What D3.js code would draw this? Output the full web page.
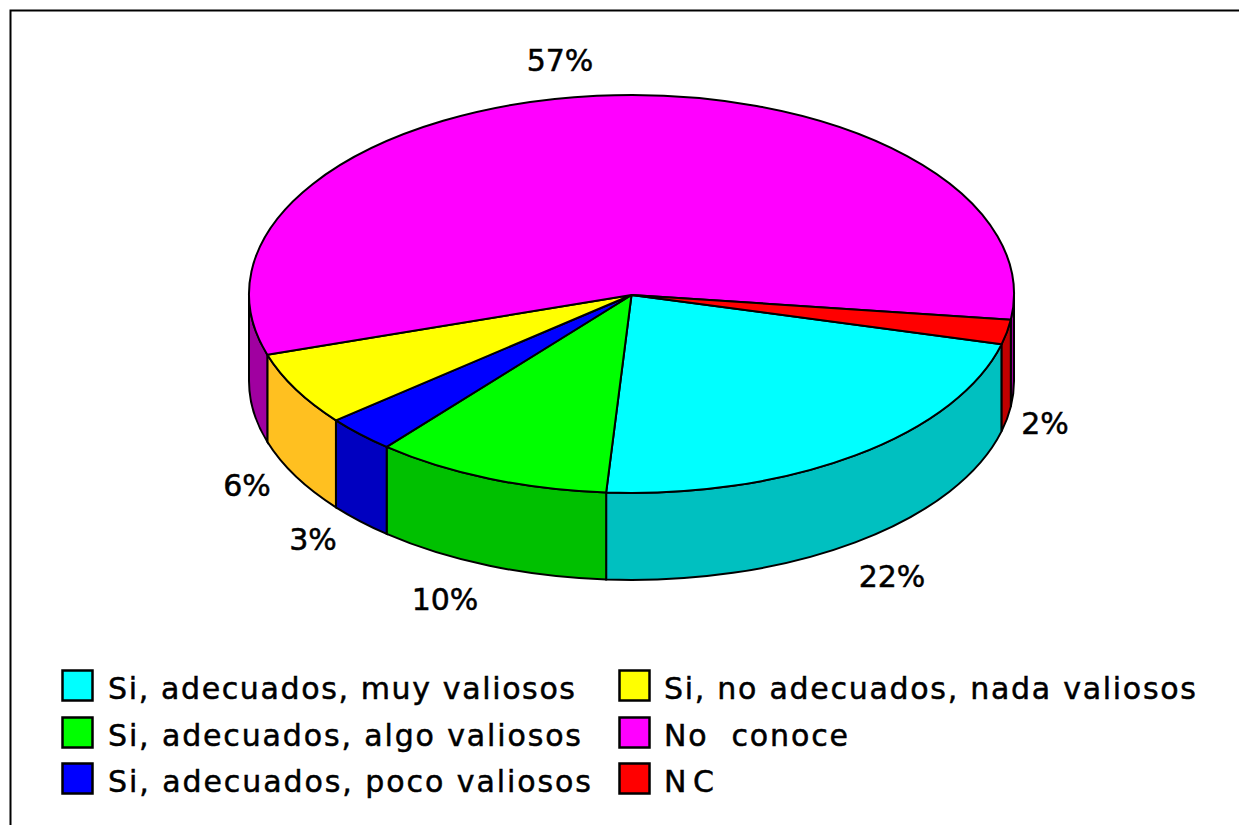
<!DOCTYPE html>
<html><head><meta charset="utf-8">
<script src="https://cdn.jsdelivr.net/npm/d3@7/dist/d3.min.js"></script>
<style>html,body{margin:0;padding:0;background:#fff}svg{display:block}text{font-family:"DejaVu Sans",sans-serif;fill:#000;stroke:#000;stroke-width:.5px;white-space:pre}</style>
</head><body><svg id="c" width="1239" height="825"></svg>
<script>
const categories=["Si, adecuados, muy valiosos","Si, adecuados, algo valiosos","Si, adecuados, poco valiosos","Si, no adecuados, nada valiosos","No  conoce","NC"];
const values=[22,10,3,6,57,2];
const topColors=["#00ffff","#00ff00","#0000ff","#ffff00","#ff00ff","#ff0000"];
const sideColors=["#00c0c0","#00c000","#0000c0","#ffc020","#a000a0","#c00000"];
const labelAnchors=[[892,576],[445,599],[313,539],[247,485],[560,60],[1045,423]];
const legendPos=[[62,670],[62,717],[62,763],[619,670],[619,717],[619,763]];
const legendTextWidths=[467,473,483,532,184,50];

const W=1239,H=825,cx=631.5,cy=294,rx=382.5,ry=199,depth=87;
const svg=d3.select("#c");
svg.append("rect").attr("x",10.5).attr("y",10.5).attr("width",W).attr("height",H).attr("fill","#fff").attr("stroke","#000").attr("stroke-width",2);

const start=104.6*Math.PI/180;
const pie=d3.pie().sort(null).startAngle(start).endAngle(start+2*Math.PI);
const arcs=pie(values);
const sx=d3.scaleLinear().domain([-1,1]).range([cx-rx,cx+rx]);
const sy=d3.scaleLinear().domain([-1,1]).range([cy-ry,cy+ry]);
const pt=a=>[sx(Math.sin(a)),sy(-Math.cos(a))];
const front=[];
arcs.forEach((d,i)=>{
  for(const k of [0,1]){
    const lo=Math.PI/2+k*2*Math.PI,hi=3*Math.PI/2+k*2*Math.PI;
    const a0=Math.max(d.startAngle,lo),a1=Math.min(d.endAngle,hi);
    if(a1>a0) front.push({i,a0,a1});
  }
});
svg.append("g").selectAll("path").data(front).join("path")
  .attr("d",d=>{
    const p0=pt(d.a0),p1=pt(d.a1);
    return `M${p0[0]},${p0[1]}A${rx},${ry} 0 0 1 ${p1[0]},${p1[1]}L${p1[0]},${p1[1]+depth}A${rx},${ry} 0 0 0 ${p0[0]},${p0[1]+depth}Z`;
  })
  .attr("fill",d=>sideColors[d.i]).attr("stroke","#000").attr("stroke-width",2);
svg.append("g").selectAll("path").data(arcs).join("path")
  .attr("d",d=>{
    const p0=pt(d.startAngle),p1=pt(d.endAngle);
    return `M${cx},${cy+1}L${p0[0]},${p0[1]}A${rx},${ry} 0 ${d.endAngle-d.startAngle>Math.PI?1:0} 1 ${p1[0]},${p1[1]}Z`;
  })
  .attr("fill",(d,i)=>topColors[i]).attr("stroke","#000").attr("stroke-width",2).attr("stroke-linejoin","round");
svg.append("g").selectAll("text").data(values).join("text")
  .attr("x",(d,i)=>labelAnchors[i][0]).attr("y",(d,i)=>labelAnchors[i][1]).attr("dy","0.36em")
  .attr("text-anchor","middle").attr("font-size",30).text(d=>d+"%");
const lg=svg.append("g").selectAll("g").data(categories).join("g")
  .attr("transform",(d,i)=>`translate(${legendPos[i]})`);
lg.append("rect").attr("x",0.5).attr("y",0.5).attr("width",30).attr("height",30)
  .attr("fill",(d,i)=>topColors[i]).attr("stroke","#000").attr("stroke-width",2.5);
lg.append("text").attr("x",(d,i)=>i<3?46:45).attr("y",18).attr("dy","0.36em").attr("font-size",30)
  .attr("textLength",(d,i)=>legendTextWidths[i]).attr("lengthAdjust","spacing").text(d=>d);
</script></body></html>
